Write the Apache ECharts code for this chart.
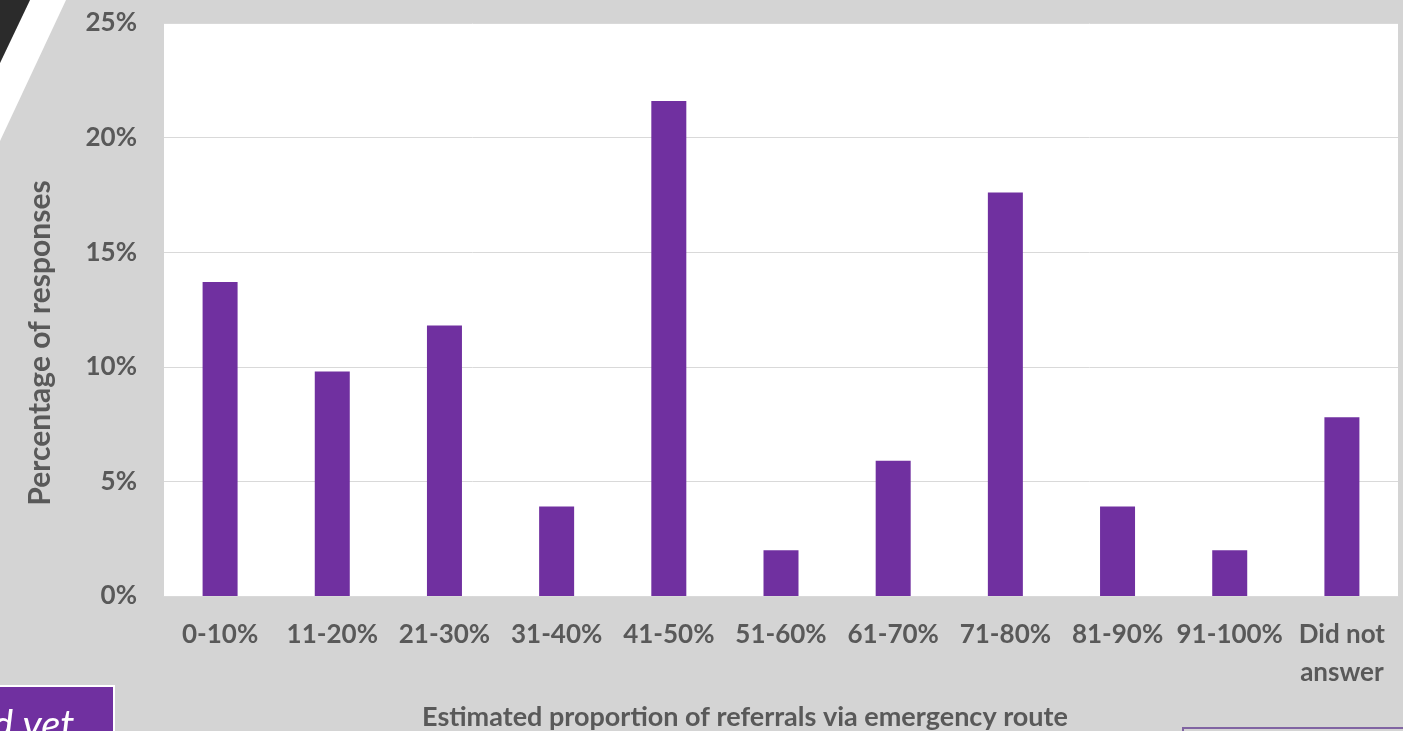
<!DOCTYPE html>
<html>
<head>
<meta charset="utf-8">
<title>Estimated proportion of referrals via emergency route</title>
<script src="https://cdn.jsdelivr.net/npm/echarts@6/dist/echarts.min.js"></script>
<style>
  html, body { margin: 0; padding: 0; background: #d4d4d4; }
  #chart { width: 1403px; height: 731px; }
</style>
</head>
<body>
<div id="chart"></div>
<script>
// Survey: estimated share of referrals arriving via the emergency route
const categories = ['0-10%', '11-20%', '21-30%', '31-40%', '41-50%', '51-60%',
  '61-70%', '71-80%', '81-90%', '91-100%', 'Did not\nanswer'];
const responsePercent = [13.7, 9.8, 11.8, 3.9, 21.6, 2.0, 5.9, 17.6, 3.9, 2.0, 7.8];
const yTicks = [0, 5, 10, 15, 20, 25];

const xTitle = 'Estimated proportion of referrals via emergency route';
const yTitle = 'Percentage of responses';
const footnoteText = 'd yet';

const textGray = '#595959';
const fontFamily = 'Lato, "Open Sans", sans-serif';

const chart = echarts.init(document.getElementById('chart'), null, { renderer: 'canvas' });

chart.setOption({
  backgroundColor: '#d4d4d4',
  animation: false,
  grid: {
    left: 164, right: 5, top: 23, bottom: 135,
    show: true, backgroundColor: '#ffffff', borderWidth: 0
  },
  xAxis: {
    type: 'category',
    data: categories,
    axisLine: { show: true, lineStyle: { color: '#d9d9d9', width: 1 } },
    axisTick: { show: false },
    axisLabel: {
      interval: 0,
      color: textGray,
      fontFamily: fontFamily,
      fontWeight: 'bold',
      fontSize: 26,
      lineHeight: 38,
      margin: 20
    }
  },
  yAxis: {
    type: 'value',
    min: yTicks[0],
    max: yTicks[yTicks.length - 1],
    interval: yTicks[1] - yTicks[0],
    axisLine: { show: false },
    axisTick: { show: false },
    splitLine: { show: true, lineStyle: { color: '#d9d9d9', width: 1 } },
    axisLabel: {
      color: textGray,
      fontFamily: fontFamily,
      fontWeight: 'bold',
      fontSize: 26,
      margin: 27,
      formatter: v => v + '%'
    }
  },
  series: [{
    type: 'bar',
    data: responsePercent,
    barWidth: 35,
    itemStyle: { color: '#7030a0' }
  }],
  graphic: [
    // slide decoration: dark wedge and white stripe in the top-left corner
    {
      type: 'polygon', silent: true,
      shape: { points: [[30, 0], [66, 0], [0, 141], [0, 63]] },
      style: { fill: '#ffffff' }
    },
    {
      type: 'polygon', silent: true,
      shape: { points: [[0, 0], [30, 0], [0, 63]] },
      style: { fill: '#2b2b2b' }
    },
    // axis titles
    {
      type: 'text', silent: true,
      x: 40, y: 343, rotation: Math.PI / 2,
      style: {
        text: yTitle, fill: textGray, font: 'bold 30px ' + fontFamily,
        align: 'center', verticalAlign: 'middle'
      }
    },
    {
      type: 'text', silent: true,
      x: 745, y: 717,
      style: {
        text: xTitle, fill: textGray, font: 'bold 27px ' + fontFamily,
        align: 'center', verticalAlign: 'middle'
      }
    },
    // purple note box in the lower-left corner
    {
      type: 'rect', silent: true,
      shape: { x: -4, y: 686, width: 118, height: 60 },
      style: { fill: '#7030a0', stroke: '#ffffff', lineWidth: 2 }
    },
    {
      type: 'text', silent: true,
      x: -8, y: 706,
      style: {
        text: footnoteText, fill: '#ffffff', font: 'italic 40px ' + fontFamily,
        align: 'left', verticalAlign: 'top'
      }
    },
    // outlined box at the lower-right edge
    {
      type: 'rect', silent: true,
      shape: { x: 1183, y: 728, width: 240, height: 40 },
      style: { fill: '#d4d4d4', stroke: '#8064a2', lineWidth: 2 }
    }
  ]
});
</script>
</body>
</html>
